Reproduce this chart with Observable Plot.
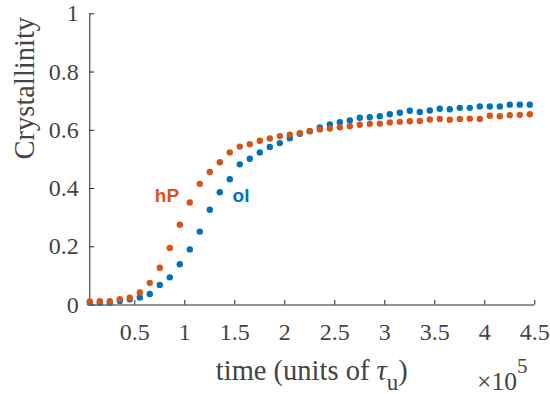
<!DOCTYPE html>
<html>
<head>
<meta charset="utf-8">
<script src="https://cdn.jsdelivr.net/npm/d3@7"></script>
<script src="https://cdn.jsdelivr.net/npm/@observablehq/plot@0.6"></script>
<style>
  html, body { margin: 0; padding: 0; background: #fff; }
  #chart { width: 550px; height: 394px; }
</style>
</head>
<body>
<div id="chart"></div>
<script>
// ---- data ----
const time = [5000, 15000, 25000, 35000, 45000, 55000, 65000, 75000, 85000, 95000,
  105000, 115000, 125000, 135000, 145000, 155000, 165000, 175000, 185000, 195000,
  205000, 215000, 225000, 235000, 245000, 255000, 265000, 275000, 285000, 295000,
  305000, 315000, 325000, 335000, 345000, 355000, 365000, 375000, 385000, 395000,
  405000, 415000, 425000, 435000, 445000];
const ol = [0.008, 0.008, 0.008, 0.014, 0.020, 0.026, 0.038, 0.069, 0.095, 0.140,
  0.191, 0.252, 0.327, 0.387, 0.432, 0.483, 0.502, 0.524, 0.543, 0.556,
  0.573, 0.588, 0.597, 0.610, 0.620, 0.628, 0.634, 0.643, 0.645, 0.648,
  0.655, 0.660, 0.667, 0.663, 0.668, 0.674, 0.672, 0.677, 0.677, 0.682,
  0.682, 0.682, 0.688, 0.688, 0.688];
const hP = [0.012, 0.013, 0.013, 0.020, 0.025, 0.043, 0.076, 0.128, 0.196, 0.276,
  0.352, 0.416, 0.457, 0.490, 0.524, 0.544, 0.552, 0.564, 0.572, 0.580,
  0.585, 0.590, 0.597, 0.603, 0.606, 0.610, 0.614, 0.619, 0.622, 0.623,
  0.627, 0.629, 0.631, 0.632, 0.637, 0.639, 0.636, 0.639, 0.640, 0.639,
  0.650, 0.648, 0.652, 0.653, 0.655];
const xTicks = [50000, 100000, 150000, 200000, 250000, 300000, 350000, 400000, 450000];
const xTickLabels = ["0.5", "1", "1.5", "2", "2.5", "3", "3.5", "4", "4.5"];
const yTicks = [0, 0.2, 0.4, 0.6, 0.8, 1];
const yTickLabels = ["0", "0.2", "0.4", "0.6", "0.8", "1"];
const seriesNames = ["ol", "hP"];
const seriesColors = ["#0072BD", "#D95319"];
const labelNames = ["hP", "ol"];
const labelX = [82200, 156200];
const labelY = [0.373, 0.373];

// ---- build table ----
const points = [];
time.forEach((t, i) => points.push({t, v: ol[i], s: "ol"}));
time.forEach((t, i) => points.push({t, v: hP[i], s: "hP"}));
const labels = labelNames.map((name, i) => ({name, x: labelX[i], y: labelY[i]}));

const serif = "Liberation Serif, Times New Roman, serif";
const axisColor = "#262626";
const textColor = "#444444";
const xMin = 5000, xMax = 450000;

const plot = Plot.plot({
  width: 550,
  height: 394,
  marginLeft: 89.3,
  marginRight: 15.7,
  marginTop: 13.3,
  marginBottom: 89.5,
  x: {domain: [xMin, xMax], axis: null},
  y: {domain: [0, 1], axis: null},
  color: {domain: seriesNames, range: seriesColors},
  style: {background: "white", overflow: "visible"},
  marks: [
    // axis lines
    Plot.ruleY([0], {x1: xMin, x2: xMax, stroke: axisColor, strokeWidth: 1}),
    Plot.ruleX([xMin], {y1: 0, y2: 1, stroke: axisColor, strokeWidth: 1}),
    // inward ticks
    Plot.ruleX(xTicks, {x: d => d, y1: 0, y2: 0.016, stroke: axisColor}),
    Plot.ruleY(yTicks, {y: d => d, x1: xMin, x2: xMin + 5000, stroke: axisColor}),
    // tick labels
    Plot.text(xTicks, {x: d => d, y: () => 0, text: (d, i) => xTickLabels[i], dy: 27,
      fontSize: 24, fontFamily: serif, fontVariant: "normal", fill: textColor}),
    Plot.text(yTicks, {x: () => xMin, y: d => d, text: (d, i) => yTickLabels[i], dx: -11,
      textAnchor: "end", fontSize: 24, fontFamily: serif, fontVariant: "normal", fill: textColor}),
    // y label
    Plot.text(["Crystallinity"], {frameAnchor: "left", rotate: -90, dx: -65,
      fontSize: 28.5, fontFamily: serif, fill: textColor}),
    // data
    Plot.dot(points, {x: "t", y: "v", fill: "s", r: 3.2, stroke: null}),
    // series labels
    Plot.text(labels, {x: "x", y: "y", text: "name", fill: d => d.name,
      fontSize: 19, fontWeight: "bold", fontFamily: "Liberation Sans, Arial, sans-serif"})
  ]
});
document.getElementById("chart").appendChild(plot);

// x label with italic tau and subscript u, and exponent note
const svg = d3.select(plot);
const xl = svg.append("text")
  .attr("x", 311.8).attr("y", 379.5)
  .attr("text-anchor", "middle")
  .attr("font-family", serif).attr("font-size", 28.5).attr("fill", textColor);
xl.append("tspan").text("time (units of ");
xl.append("tspan").attr("font-style", "italic").text("τ");
xl.append("tspan").attr("font-size", 23).attr("dy", 10).text("u");
xl.append("tspan").attr("dy", -10).text(")");

const ex = svg.append("text")
  .attr("x", 477).attr("y", 389.5)
  .attr("text-anchor", "start")
  .attr("font-family", serif).attr("font-size", 25.5).attr("fill", textColor);
ex.append("tspan").text("×10");
ex.append("tspan").attr("font-size", 21).attr("dy", -17).text("5");
</script>
</body>
</html>
